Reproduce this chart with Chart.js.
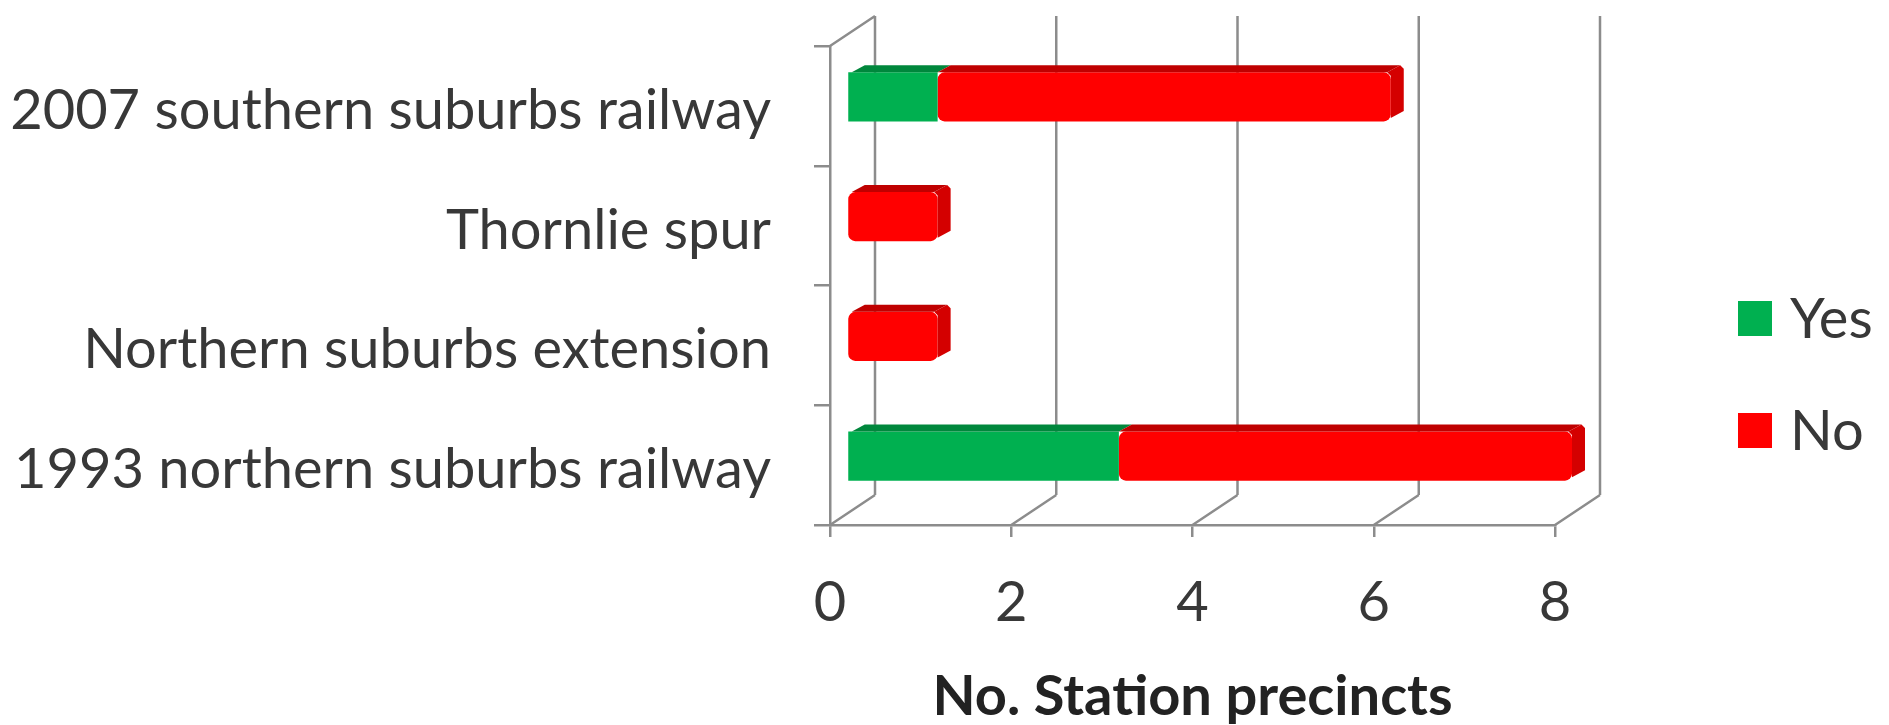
<!DOCTYPE html>
<html>
<head>
<meta charset="utf-8">
<title>Station precincts</title>
<script src="https://cdn.jsdelivr.net/npm/chart.js@4.4.0/dist/chart.umd.min.js"></script>
<style>
    html, body { margin: 0; padding: 0; background: #fff; }
    canvas { display: block; }
</style>
</head>
<body>
<canvas id="chart" width="1889" height="725"></canvas>
<script>
(function(global){
    "use strict";

    var categories = [
        "2007 southern suburbs railway",
        "Thornlie spur",
        "Northern suburbs extension",
        "1993 northern suburbs railway"
    ];
    var seriesNames = ["Yes", "No"];
    var yesValues = [1, 0, 0, 3];
    var noValues = [5, 1, 1, 5];
    var xTicks = [0, 2, 4, 6, 8];
    var axisTitle = "No. Station precincts";

    var FONT = "Lato, 'Open Sans', sans-serif";
    var FONT_SIZE = 56;
    var TEXT = "#383838";
    var LINE = "#8c8c8c";
    var BAR_RADIUS = 7;

    // the back wall sits behind the front axes, the bars half way in
    var wallDepth = {x: 45, y: -30};
    var barShift = {x: 17, y: -9};
    var barDepth = {x: 13, y: -7};

    var wallPlugin = {
        id: "wall",
        beforeDatasetsDraw: function(chart) {
            var ctx = chart.ctx;
            var area = chart.chartArea;
            var xScale = chart.scales.x;

            ctx.save();
            ctx.strokeStyle = LINE;
            ctx.lineWidth = 2.5;
            ctx.beginPath();
            for(var i = 0; i < xTicks.length; i++) {
                var px = xScale.getPixelForValue(xTicks[i]);
                // gridline on the back wall
                ctx.moveTo(px + wallDepth.x, area.top + wallDepth.y);
                ctx.lineTo(px + wallDepth.x, area.bottom + wallDepth.y);
                // floor edge back to the front axis
                ctx.moveTo(px, area.bottom);
                ctx.lineTo(px + wallDepth.x, area.bottom + wallDepth.y);
            }
            ctx.moveTo(area.left, area.top);
            ctx.lineTo(area.left + wallDepth.x, area.top + wallDepth.y);
            ctx.stroke();
            ctx.restore();

            ctx.save();
            ctx.translate(barShift.x, barShift.y);
        },
        afterDatasetsDraw: function(chart) {
            var ctx = chart.ctx;
            var datasets = chart.data.datasets;
            var r = BAR_RADIUS / 2;

            for(var i = 0; i < datasets.length; i++) {
                var ds = datasets[i];
                var bars = chart.getDatasetMeta(i).data;

                for(var j = 0; j < bars.length; j++) {
                    if(!ds.data[j]) {
                        continue;
                    }
                    var p = bars[j].getProps(["x", "y", "base", "height"], true);
                    var top = p.y - p.height / 2;
                    var bottom = p.y + p.height / 2;

                    var inner = true, outer = true;
                    for(var k = 0; k < datasets.length; k++) {
                        if(k < i && datasets[k].data[j]) {
                            inner = false;
                        }
                        if(k > i && datasets[k].data[j]) {
                            outer = false;
                        }
                    }
                    var x0 = p.base + (inner ? r : 0);
                    var x1 = p.x - (outer ? r : 0);

                    // top face
                    ctx.fillStyle = ds.topColor;
                    ctx.beginPath();
                    ctx.moveTo(x0, top);
                    ctx.lineTo(x1, top);
                    ctx.lineTo(x1 + barDepth.x, top + barDepth.y);
                    ctx.lineTo(x0 + barDepth.x, top + barDepth.y);
                    ctx.closePath();
                    ctx.fill();

                    // end face only on the outer segment of the stack
                    if(outer) {
                        ctx.fillStyle = ds.sideColor;
                        ctx.beginPath();
                        ctx.moveTo(x1, top);
                        ctx.lineTo(x1 + barDepth.x, top + barDepth.y);
                        ctx.lineTo(p.x + barDepth.x, top + barDepth.y + r);
                        ctx.lineTo(p.x + barDepth.x, bottom + barDepth.y - r);
                        ctx.lineTo(p.x, bottom - r);
                        ctx.lineTo(p.x, top + r);
                        ctx.closePath();
                        ctx.fill();
                    }
                }
            }

            ctx.restore();
        }
    };

    var legendPlugin = {
        id: "sideLegend",
        afterDraw: function(chart) {
            var ctx = chart.ctx;
            var area = chart.chartArea;
            var left = area.right + 183;
            var y = area.top + 272;
            var datasets = chart.data.datasets;

            ctx.save();
            ctx.font = FONT_SIZE + "px " + FONT;
            ctx.textBaseline = "middle";
            for(var i = 0; i < datasets.length; i++) {
                ctx.fillStyle = datasets[i].backgroundColor;
                ctx.fillRect(left, y - 17, 34, 35);
                ctx.fillStyle = TEXT;
                ctx.fillText(datasets[i].label, left + 52, y + 2);
                y += 112;
            }
            ctx.restore();
        }
    };

    var tickFont = {family: FONT, size: FONT_SIZE};

    global.stationChart = new Chart(document.getElementById("chart"), {
        type: "bar",
        data: {
            labels: categories,
            datasets: [{
                label: seriesNames[0],
                data: yesValues,
                backgroundColor: "#00b050",
                topColor: "#00873c",
                sideColor: "#009a46"
            }, {
                label: seriesNames[1],
                data: noValues,
                backgroundColor: "#ff0000",
                topColor: "#bf0000",
                sideColor: "#d40000"
            }]
        },
        options: {
            responsive: false,
            animation: false,
            indexAxis: "y",
            categoryPercentage: 1,
            barPercentage: 0.41,
            borderRadius: BAR_RADIUS,
            borderSkipped: false,
            clip: false,
            layout: {padding: {top: 46, right: 334, bottom: 0, left: 0}},
            plugins: {
                legend: {display: false},
                tooltip: {enabled: false}
            },
            scales: {
                x: {
                    stacked: true,
                    min: 0,
                    max: 8,
                    afterBuildTicks: function(scale) {
                        scale.ticks = xTicks.map(function(v){ return {value: v}; });
                    },
                    afterFit: function(scale) {
                        scale.height = 200;
                        scale.paddingLeft = 0;
                        scale.paddingRight = 0;
                    },
                    grid: {drawOnChartArea: false, tickLength: 12, color: LINE, lineWidth: 2.5},
                    border: {color: LINE, width: 2.5},
                    ticks: {color: TEXT, font: tickFont, padding: 32, maxRotation: 0},
                    title: {
                        display: true,
                        text: axisTitle,
                        color: "#222",
                        font: {family: FONT, size: FONT_SIZE, weight: "bold", lineHeight: 1},
                        padding: 0
                    }
                },
                y: {
                    stacked: true,
                    afterFit: function(scale) {
                        scale.width = 830;
                        scale.paddingTop = 0;
                        scale.paddingBottom = 0;
                    },
                    grid: {drawOnChartArea: false, tickLength: 16, color: LINE, lineWidth: 2.5, offset: true},
                    border: {color: LINE, width: 2.5},
                    ticks: {color: TEXT, font: tickFont, padding: 43, labelOffset: 5, autoSkip: false}
                }
            }
        },
        plugins: [wallPlugin, legendPlugin]
    });

})(window);
</script>
</body>
</html>
